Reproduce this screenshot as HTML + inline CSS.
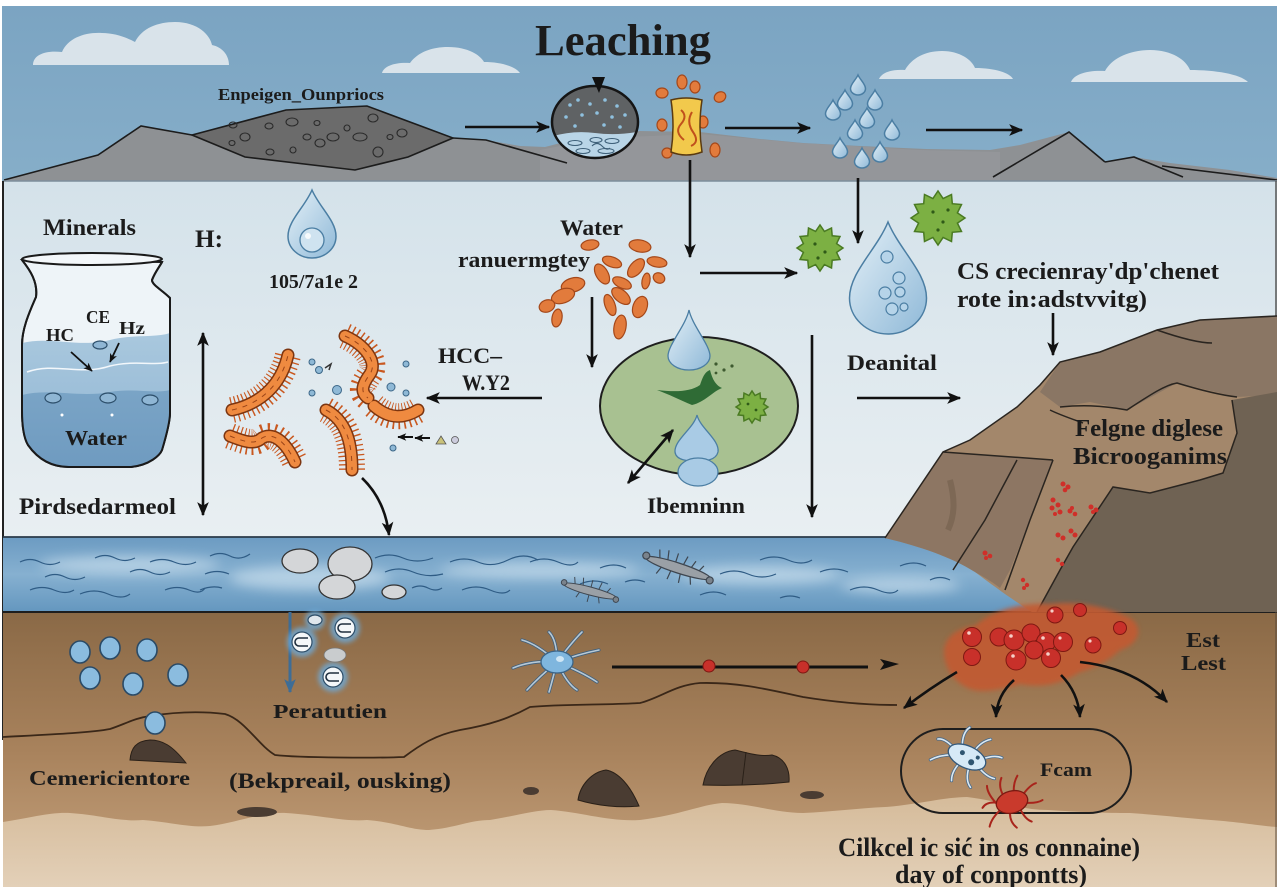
<!DOCTYPE html>
<html><head><meta charset="utf-8">
<style>
html,body{margin:0;padding:0;background:#fff;width:1280px;height:896px;overflow:hidden}
svg{display:block}
text{font-family:"Liberation Serif","DejaVu Serif",serif;font-weight:bold;fill:#1b1b1b}
.ln{stroke:#111;stroke-width:2.6;fill:none}
.hair{fill:none;stroke:#c9581f;stroke-width:26;stroke-dasharray:1.3 3.2}
.bo{fill:none;stroke:#7c3510;stroke-width:13;stroke-linecap:round}
.bb{fill:none;stroke:#ef8a40;stroke-width:10;stroke-linecap:round}
.bd{fill:none;stroke:#9a4418;stroke-width:1;stroke-dasharray:5 6}
.ov{fill:#e27b3c;stroke:#a4481a;stroke-width:1.2}
.germ{fill:#7cb043;stroke:#4a7a22;stroke-width:1.5}
.wv{fill:none;stroke:#2f5c85;stroke-width:1.2}
.rd{fill:#cf2f29}
.dr{fill:url(#dropg);stroke:#4b7ea3;stroke-width:1.5}
.rb{fill:#c8302a;stroke:#7e1812;stroke-width:1}
</style></head><body>
<svg width="1280" height="896" viewBox="0 0 1280 896" xmlns="http://www.w3.org/2000/svg">
<defs>
<linearGradient id="sky" x1="0" y1="0" x2="0" y2="1"><stop offset="0" stop-color="#7ba4c2"/><stop offset="1" stop-color="#86aec9"/></linearGradient>
<linearGradient id="panel" x1="0" y1="0" x2="0" y2="1"><stop offset="0" stop-color="#d4e2ea"/><stop offset="1" stop-color="#e9eff2"/></linearGradient>
<linearGradient id="water" x1="0" y1="0" x2="0" y2="1"><stop offset="0" stop-color="#6c9bc2"/><stop offset=".5" stop-color="#86b0d0"/><stop offset="1" stop-color="#6497bf"/></linearGradient>
<linearGradient id="soil" x1="0" y1="0" x2="0" y2="1"><stop offset="0" stop-color="#8a6946"/><stop offset=".5" stop-color="#a8825c"/><stop offset="1" stop-color="#c6a37e"/></linearGradient>
<linearGradient id="beige" x1="0" y1="0" x2="0" y2="1"><stop offset="0" stop-color="#d5bb9a"/><stop offset="1" stop-color="#e3d0b8"/></linearGradient>
<linearGradient id="dropg" x1="0" y1="0" x2="1" y2="1"><stop offset="0" stop-color="#e4f0f7"/><stop offset="1" stop-color="#8fb9d8"/></linearGradient>
<linearGradient id="jarw" x1="0" y1="0" x2="0" y2="1"><stop offset="0" stop-color="#a9c8de"/><stop offset="1" stop-color="#8fb4d2"/></linearGradient>
<linearGradient id="jarw2" x1="0" y1="0" x2="0" y2="1"><stop offset="0" stop-color="#7aa4c6"/><stop offset="1" stop-color="#6f9bc0"/></linearGradient>
<filter id="blur" x="-50%" y="-50%" width="200%" height="200%"><feGaussianBlur stdDeviation="6"/></filter>
<filter id="blur2" x="-50%" y="-50%" width="200%" height="200%"><feGaussianBlur stdDeviation="2.5"/></filter>
<marker id="ar" viewBox="0 0 12 12" refX="11" refY="6" markerWidth="14" markerHeight="14" orient="auto-start-reverse" markerUnits="userSpaceOnUse"><path d="M0,1 L12,6 L0,11 L3,6 Z" fill="#111"/></marker>
<marker id="ars" viewBox="0 0 12 12" refX="11" refY="6" markerWidth="9" markerHeight="9" orient="auto-start-reverse" markerUnits="userSpaceOnUse"><path d="M0,1 L12,6 L0,11 L3,6 Z" fill="#111"/></marker>
<marker id="arb" viewBox="0 0 12 12" refX="11" refY="6" markerWidth="14" markerHeight="14" orient="auto" markerUnits="userSpaceOnUse"><path d="M0,1 L12,6 L0,11 L3,6 Z" fill="#3e6d96"/></marker>
<path id="b1" d="M232,410 C255,405 280,390 288,355"/>
<path id="b2" d="M345,336 C365,345 378,362 370,374 C362,385 360,392 368,398"/>
<path id="b3" d="M374,406 C390,420 405,418 418,410"/>
<path id="b4" d="M230,436 C245,442 255,445 262,438 C272,432 285,440 295,462"/>
<path id="b5" d="M326,410 C345,420 352,440 352,470"/>
<clipPath id="cc"><ellipse cx="595" cy="122" rx="43" ry="36"/></clipPath>
</defs>

<rect x="0" y="0" width="1280" height="896" fill="#fff"/>

<!-- SKY -->
<rect x="2" y="6" width="1275" height="176" fill="url(#sky)"/>
<g fill="#d9e3ea">
<path d="M33,65 C33,55 45,50 62,52 C68,38 85,32 102,33 C115,33 128,38 135,42 C142,28 158,22 175,22 C198,22 210,35 212,45 C222,47 229,55 229,65 Z"/>
<path d="M382,73 C384,66 395,62 410,63 C418,52 432,47 448,47 C468,47 480,55 484,62 C500,62 515,66 520,73 Z"/>
<path d="M879,79 C882,72 893,69 905,70 C912,58 925,51 942,51 C960,51 972,60 975,68 C995,68 1010,73 1013,79 Z"/>
<path d="M1071,82 C1074,74 1088,70 1105,71 C1112,58 1130,50 1150,50 C1172,50 1186,60 1190,70 C1215,70 1240,74 1248,82 Z"/>
</g>
<path d="M2,182 L4,180 L98,155 L141,126 L192,135 L286,110 L367,106 L453,138 L486,140 L520,146 L545,147 L580,138 L640,131 L700,132 L760,139 L803,143 L860,146 L926,149 L990,150 L1020,145 L1069,132 L1105,162 L1134,157 L1170,163 L1230,170 L1277,178 L1277,182 Z" fill="#8e9194"/>
<path d="M540,182 L540,150 L600,138 L700,134 L800,143 L920,150 L1000,152 L1000,182 Z" fill="#979a9e" opacity=".6"/>
<path d="M192,135 L286,110 L367,106 L453,138 L408,157 L355,170 L245,157 Z" fill="#6b6b6b" stroke="#1c1c1c" stroke-width="1.6"/>
<g fill="none" stroke="#2a2a2a" stroke-width="1.1">
<ellipse cx="233" cy="125" rx="4" ry="3"/><ellipse cx="245" cy="137" rx="5" ry="4"/><ellipse cx="232" cy="143" rx="3" ry="2.5"/>
<ellipse cx="269" cy="126" rx="4" ry="3"/><ellipse cx="292" cy="122" rx="6" ry="4"/><ellipse cx="307" cy="137" rx="4" ry="3"/>
<ellipse cx="320" cy="143" rx="5" ry="4"/><ellipse cx="317" cy="123" rx="3" ry="2.5"/><ellipse cx="333" cy="137" rx="6" ry="4"/>
<ellipse cx="347" cy="128" rx="3" ry="3"/><ellipse cx="360" cy="137" rx="7" ry="4"/><ellipse cx="373" cy="118" rx="5" ry="4"/>
<ellipse cx="378" cy="152" rx="5" ry="5"/><ellipse cx="390" cy="137" rx="3" ry="2.5"/><ellipse cx="402" cy="133" rx="5" ry="4"/>
<ellipse cx="293" cy="150" rx="3" ry="3"/><ellipse cx="270" cy="152" rx="4" ry="3"/>
</g>
<g fill="none" stroke="#1c1c1c" stroke-width="1.6">
<path d="M4,180 L98,155 L141,126 L192,135"/>
<path d="M453,138 L486,140 L567,163"/>
<path d="M993,177 L1069,132 L1105,162"/>
<path d="M1105,162 L1134,157 L1183,177"/>
<path d="M1162,166 L1277,180"/>
</g>
<text x="218" y="100" font-size="17" textLength="166" lengthAdjust="spacingAndGlyphs" fill="#1e2a35">Enpeigen_Ounpriocs</text>
<text x="535" y="55" font-size="44" textLength="176" lengthAdjust="spacingAndGlyphs" fill="#111">Leaching</text>
<line class="ln" x1="465" y1="127" x2="549" y2="127" marker-end="url(#ar)" stroke-width="3"/>
<line class="ln" x1="725" y1="128" x2="810" y2="128" marker-end="url(#ar)" stroke-width="3"/>
<line class="ln" x1="926" y1="130" x2="1022" y2="130" marker-end="url(#ar)" stroke-width="3"/>
<!-- rock circle -->
<g clip-path="url(#cc)">
<rect x="550" y="80" width="92" height="84" fill="#5f6264"/>
<path d="M550,137 Q572,130 595,133 T642,131 L642,164 L550,164Z" fill="#b9d5e7"/>
<g fill="#8fc0de"><circle cx="570" cy="105" r="1.8"/><circle cx="578" cy="100" r="1.8"/><circle cx="590" cy="104" r="1.8"/><circle cx="605" cy="100" r="1.8"/><circle cx="617" cy="106" r="1.8"/><circle cx="566" cy="117" r="1.8"/><circle cx="582" cy="115" r="1.8"/><circle cx="597" cy="113" r="1.8"/><circle cx="612" cy="117" r="1.8"/><circle cx="625" cy="115" r="1.8"/><circle cx="575" cy="126" r="1.8"/><circle cx="604" cy="125" r="1.8"/><circle cx="620" cy="127" r="1.8"/></g>
<g fill="none" stroke="#3d5f78" stroke-width="1.1"><ellipse cx="575" cy="143" rx="7" ry="2.5"/><ellipse cx="596" cy="140" rx="6" ry="2.5"/><ellipse cx="612" cy="141" rx="7" ry="2.5"/><ellipse cx="583" cy="151" rx="7" ry="2.5"/><ellipse cx="606" cy="151" rx="8" ry="2.5"/><path d="M592,146 q5,-5 10,0 t8,2"/></g>
</g>
<ellipse cx="595" cy="122" rx="43" ry="36" fill="none" stroke="#151515" stroke-width="2.5"/>
<polygon points="592,77 605,77 599,93" fill="#111"/>
<!-- yellow thing -->
<g class="ov"><ellipse cx="682" cy="82" rx="5" ry="7"/><ellipse cx="695" cy="87" rx="5" ry="6"/><ellipse cx="720" cy="97" rx="6" ry="5" transform="rotate(-30 720 97)"/><ellipse cx="662" cy="93" rx="6" ry="5"/><ellipse cx="662" cy="125" rx="5" ry="6"/><ellipse cx="703" cy="122" rx="5" ry="6"/><ellipse cx="667" cy="153" rx="5" ry="5"/><ellipse cx="715" cy="150" rx="5" ry="7"/></g>
<path d="M671,100 Q686,96 702,100 Q698,126 702,152 Q686,158 671,152 Q675,126 671,100 Z" fill="#f2c94c" stroke="#5a3a10" stroke-width="1.5"/>
<path d="M681,110 q7,6 0,14 t3,16 M692,112 q-6,10 1,20 t-2,14" fill="none" stroke="#c0501c" stroke-width="2"/>
<!-- sky drops -->
<g class="dr">
<path d="M858,75 c2.25,5 7.5,9 7.5,13.6 a7.5,6.4 0 0 1 -15,0 c0,-4.6 5.25,-8.6 7.5,-13.6z"/>
<path d="M845,90 c2.25,5 7.5,9 7.5,13.6 a7.5,6.4 0 0 1 -15,0 c0,-4.6 5.25,-8.6 7.5,-13.6z"/>
<path d="M875,90 c2.25,5 7.5,9 7.5,13.6 a7.5,6.4 0 0 1 -15,0 c0,-4.6 5.25,-8.6 7.5,-13.6z"/>
<path d="M833,100 c2.25,5 7.5,9 7.5,13.6 a7.5,6.4 0 0 1 -15,0 c0,-4.6 5.25,-8.6 7.5,-13.6z"/>
<path d="M867,108 c2.25,5 7.5,9 7.5,13.6 a7.5,6.4 0 0 1 -15,0 c0,-4.6 5.25,-8.6 7.5,-13.6z"/>
<path d="M855,120 c2.25,5 7.5,9 7.5,13.6 a7.5,6.4 0 0 1 -15,0 c0,-4.6 5.25,-8.6 7.5,-13.6z"/>
<path d="M892,120 c2.25,5 7.5,9 7.5,13.6 a7.5,6.4 0 0 1 -15,0 c0,-4.6 5.25,-8.6 7.5,-13.6z"/>
<path d="M840,138 c2.25,5 7.5,9 7.5,13.6 a7.5,6.4 0 0 1 -15,0 c0,-4.6 5.25,-8.6 7.5,-13.6z"/>
<path d="M862,148 c2.25,5 7.5,9 7.5,13.6 a7.5,6.4 0 0 1 -15,0 c0,-4.6 5.25,-8.6 7.5,-13.6z"/>
<path d="M880,142 c2.25,5 7.5,9 7.5,13.6 a7.5,6.4 0 0 1 -15,0 c0,-4.6 5.25,-8.6 7.5,-13.6z"/>
</g>

<!-- MIDDLE PANEL -->
<rect x="3" y="181" width="1274" height="357" fill="url(#panel)"/>
<line x1="3" y1="181" x2="1277" y2="181" stroke="#7d8e9b" stroke-width="1.5"/>
<line x1="3" y1="181" x2="3" y2="740" stroke="#222" stroke-width="2"/>
<line x1="1276" y1="181" x2="1276" y2="330" stroke="#555" stroke-width="1.5"/>

<text x="43" y="235" font-size="23" textLength="93" lengthAdjust="spacingAndGlyphs">Minerals</text>
<text x="195" y="247" font-size="25" textLength="28" lengthAdjust="spacingAndGlyphs">H:</text>
<path class="dr" d="M312,190 c7.2,17 24,30.6 24,46.24 a24,21.76 0 0 1 -48,0 c0,-15.64 16.8,-29.24 24,-46.24z"/>
<circle cx="312" cy="240" r="12" fill="#cfe3f0" stroke="#4b7ea3" stroke-width="1.3"/>
<circle cx="308" cy="236" r="3" fill="#fff" opacity=".8"/>
<text x="269" y="288" font-size="20" textLength="89" lengthAdjust="spacingAndGlyphs">105/7a1e 2</text>

<!-- jar -->
<path d="M22,260 C30,270 38,282 36,297 C28,315 22,330 22,345 L22,410 C22,430 25,440 28,445 C40,462 55,467 69,467 L131,467 C150,465 160,455 162,450 C168,430 170,420 170,413 L170,298 C162,290 152,285 152,280 C155,272 160,266 162,262 Z" fill="#eef4f8" stroke="#1a1a1a" stroke-width="2"/>
<path d="M22,343 C50,336 80,348 110,340 C135,334 155,338 170,333 L170,413 C170,420 168,430 162,450 C160,455 150,465 131,467 L69,467 C55,467 40,462 28,445 C25,440 22,430 22,410 Z" fill="url(#jarw)"/>
<path d="M22,395 C50,388 80,398 110,392 C135,388 155,394 170,390 L170,413 C170,420 168,430 162,450 C160,455 150,465 131,467 L69,467 C55,467 40,462 28,445 C25,440 22,430 22,410 Z" fill="url(#jarw2)"/>
<path d="M27,372 C55,362 80,376 110,366 C135,360 155,366 168,362" fill="none" stroke="#f2f7fb" stroke-width="1.5"/>
<path d="M22,260 C30,270 38,282 36,297 C28,315 22,330 22,345 L22,410 C22,430 25,440 28,445 C40,462 55,467 69,467 L131,467 C150,465 160,455 162,450 C168,430 170,420 170,413 L170,298 C162,290 152,285 152,280 C155,272 160,266 162,262" fill="none" stroke="#1a1a1a" stroke-width="2"/>
<ellipse cx="92" cy="259" rx="70" ry="6" fill="#f3f7fa" stroke="#1a1a1a" stroke-width="2"/>
<g fill="#8fb6d4" stroke="#2d4f6b" stroke-width="1.2"><ellipse cx="100" cy="345" rx="7" ry="4"/><ellipse cx="53" cy="398" rx="8" ry="5"/><ellipse cx="108" cy="398" rx="8" ry="5"/><ellipse cx="150" cy="400" rx="8" ry="5"/></g>
<circle cx="62" cy="415" r="1.5" fill="#fff"/><circle cx="112" cy="415" r="1.5" fill="#fff"/>
<text x="86" y="323" font-size="18" textLength="24" lengthAdjust="spacingAndGlyphs">CE</text>
<text x="119" y="334" font-size="18" textLength="26" lengthAdjust="spacingAndGlyphs">Hz</text>
<text x="46" y="341" font-size="18" textLength="28" lengthAdjust="spacingAndGlyphs">HC</text>
<line x1="71" y1="352" x2="92" y2="371" stroke="#111" stroke-width="1.8" marker-end="url(#ars)"/>
<line x1="119" y1="343" x2="110" y2="362" stroke="#111" stroke-width="1.8" marker-end="url(#ars)"/>
<text x="65" y="445" font-size="21" textLength="62" lengthAdjust="spacingAndGlyphs">Water</text>
<line class="ln" x1="203" y1="333" x2="203" y2="515" marker-start="url(#ar)" marker-end="url(#ar)"/>
<text x="19" y="514" font-size="23" textLength="157" lengthAdjust="spacingAndGlyphs">Pirdsedarmeol</text>

<!-- orange bacteria -->
<g>
<use href="#b1" class="hair"/><use href="#b2" class="hair"/><use href="#b3" class="hair"/><use href="#b4" class="hair"/><use href="#b5" class="hair"/>
<use href="#b1" class="bo"/><use href="#b2" class="bo"/><use href="#b3" class="bo"/><use href="#b4" class="bo"/><use href="#b5" class="bo"/>
<use href="#b1" class="bb"/><use href="#b2" class="bb"/><use href="#b3" class="bb"/><use href="#b4" class="bb"/><use href="#b5" class="bb"/>
<use href="#b1" class="bd"/><use href="#b2" class="bd"/><use href="#b4" class="bd"/><use href="#b5" class="bd"/>
</g>
<g fill="#8fb9d6" stroke="#3c6788" stroke-width="1"><circle cx="312" cy="362" r="3"/><circle cx="319" cy="370" r="3.5"/><circle cx="406" cy="364" r="3"/><circle cx="337" cy="390" r="4.5"/><circle cx="312" cy="393" r="3"/><circle cx="391" cy="387" r="4"/><circle cx="406" cy="393" r="3"/><circle cx="393" cy="448" r="3"/></g>
<path d="M325,368 l6,-4 l-2,6" fill="none" stroke="#333" stroke-width="1.5"/>
<text x="438" y="363" font-size="22" textLength="64" lengthAdjust="spacingAndGlyphs">HCC–</text>
<text x="462" y="390" font-size="22" textLength="48" lengthAdjust="spacingAndGlyphs">W.Y2</text>
<line class="ln" x1="542" y1="398" x2="427" y2="398" marker-end="url(#ar)"/>
<line x1="413" y1="437" x2="398" y2="437" stroke="#111" stroke-width="2" marker-end="url(#ars)"/>
<line x1="430" y1="438" x2="415" y2="438" stroke="#111" stroke-width="2" marker-end="url(#ars)"/>
<path d="M436,444 l5,-8 l5,8 z" fill="#c9c27a" stroke="#555" stroke-width=".8"/>
<circle cx="455" cy="440" r="3.5" fill="#ccd" stroke="#555" stroke-width=".8"/>
<path class="ln" d="M362,478 Q385,500 389,535" marker-end="url(#ar)"/>

<!-- center column -->
<text x="560" y="235" font-size="22" textLength="63" lengthAdjust="spacingAndGlyphs">Water</text>
<text x="458" y="267" font-size="22" textLength="132" lengthAdjust="spacingAndGlyphs">ranuermgtey</text>
<g class="ov">
<ellipse cx="590" cy="245" rx="9" ry="5" transform="rotate(-10 590 245)"/>
<ellipse cx="640" cy="246" rx="11" ry="6" transform="rotate(10 640 246)"/>
<ellipse cx="612" cy="262" rx="10" ry="5" transform="rotate(20 612 262)"/>
<ellipse cx="602" cy="274" rx="6" ry="11" transform="rotate(-30 602 274)"/>
<ellipse cx="636" cy="268" rx="6" ry="11" transform="rotate(40 636 268)"/>
<ellipse cx="657" cy="262" rx="10" ry="5" transform="rotate(10 657 262)"/>
<ellipse cx="659" cy="278" rx="6" ry="5" transform="rotate(30 659 278)"/>
<ellipse cx="646" cy="281" rx="4" ry="8" transform="rotate(10 646 281)"/>
<ellipse cx="622" cy="283" rx="10" ry="5" transform="rotate(25 622 283)"/>
<ellipse cx="573" cy="285" rx="12" ry="7" transform="rotate(-15 573 285)"/>
<ellipse cx="563" cy="296" rx="12" ry="7" transform="rotate(-20 563 296)"/>
<ellipse cx="547" cy="306" rx="8" ry="6" transform="rotate(-20 547 306)"/>
<ellipse cx="557" cy="318" rx="5" ry="9" transform="rotate(10 557 318)"/>
<ellipse cx="621" cy="296" rx="11" ry="6" transform="rotate(40 621 296)"/>
<ellipse cx="610" cy="305" rx="5" ry="11" transform="rotate(-20 610 305)"/>
<ellipse cx="640" cy="307" rx="7" ry="11" transform="rotate(20 640 307)"/>
<ellipse cx="620" cy="327" rx="6" ry="12" transform="rotate(10 620 327)"/>
</g>
<line class="ln" x1="592" y1="297" x2="592" y2="367" marker-end="url(#ar)"/>
<line class="ln" x1="690" y1="160" x2="690" y2="257" marker-end="url(#ar)"/>
<line class="ln" x1="700" y1="273" x2="797" y2="273" marker-end="url(#ar)"/>
<line class="ln" x1="858" y1="178" x2="858" y2="243" marker-end="url(#ar)"/>
<polygon class="germ" points="843,248 836.6,252.4 840,259.5 832.2,260.2 831.5,268 824.4,264.6 820,271 815.6,264.6 808.5,268 807.8,260.2 800,259.5 803.4,252.4 797,248 803.4,243.6 800,236.5 807.8,235.8 808.5,228 815.6,231.4 820,225 824.4,231.4 831.5,228 832.2,235.8 840,236.5 836.6,243.6"/>
<polygon class="germ" points="965,218 957.4,223.1 961.5,231.5 952.3,232.3 951.5,241.5 943.1,237.4 938,245 932.9,237.4 924.5,241.5 923.7,232.3 914.5,231.5 918.6,223.1 911,218 918.6,212.9 914.5,204.5 923.7,203.7 924.5,194.5 932.9,198.6 938,191 943.1,198.6 951.5,194.5 952.3,203.7 961.5,204.5 957.4,212.9"/>
<g fill="#2f5a18"><circle cx="815" cy="244" r="1.6"/><circle cx="825" cy="252" r="1.6"/><circle cx="818" cy="258" r="1.6"/><circle cx="933" cy="212" r="1.6"/><circle cx="943" cy="222" r="1.6"/><circle cx="938" cy="230" r="1.6"/><circle cx="948" cy="210" r="1.6"/></g>
<path class="dr" d="M888,222 c11.55,28 38.5,50.4 38.5,76.16 a38.5,35.84 0 0 1 -77,0 c0,-25.76 26.95,-48.16 38.5,-76.16z"/>
<g fill="#b6d4e9" stroke="#4b7ea3" stroke-width="1.2"><circle cx="887" cy="257" r="6"/><circle cx="899" cy="278" r="6"/><circle cx="885" cy="293" r="6"/><circle cx="900" cy="292" r="5"/><circle cx="892" cy="309" r="6"/><circle cx="904" cy="307" r="4"/></g>

<!-- green ellipse -->
<ellipse cx="699" cy="406" rx="99" ry="69" fill="#a8c191" stroke="#1e1e1e" stroke-width="2"/>
<path d="M689,310 C692,325 710,345 710,356 A21,14 0 0 1 668,356 C668,345 686,325 689,310 Z" fill="url(#dropg)" stroke="#4b7ea3" stroke-width="1.3"/>
<g fill="#3e5a30"><circle cx="716" cy="364" r="1.6"/><circle cx="724" cy="370" r="1.6"/><circle cx="732" cy="366" r="1.6"/><circle cx="716" cy="373" r="1.4"/></g>
<path d="M657,390 C675,392 690,392 700,385 C703,376 705,372 710,370 C712,378 715,385 722,388 C712,392 705,402 692,405 C680,400 668,394 657,390 Z" fill="#2f6b35"/>
<polygon class="germ" points="768,407 763.5,410 765.9,415 760.5,415.5 760,420.9 755,418.5 752,423 749,418.5 744,420.9 743.5,415.5 738.1,415 740.5,410 736,407 740.5,404 738.1,399 743.5,398.5 744,393.1 749,395.5 752,391 755,395.5 760,393.1 760.5,398.5 765.9,399 763.5,404"/>
<g fill="#2f5a18"><circle cx="748" cy="404" r="1.4"/><circle cx="756" cy="410" r="1.4"/></g>
<path d="M697,415 C700,428 720,440 718,452 C716,460 705,462 697,460 C688,462 676,460 675,452 C674,440 694,428 697,415 Z" fill="#a9cbe5" stroke="#4b7ea3" stroke-width="1.3"/>
<ellipse cx="698" cy="472" rx="20" ry="14" fill="#a9cbe5" stroke="#4b7ea3" stroke-width="1.3"/>
<line class="ln" x1="628" y1="483" x2="673" y2="430" marker-start="url(#ar)" marker-end="url(#ar)"/>
<text x="647" y="513" font-size="22" textLength="98" lengthAdjust="spacingAndGlyphs">Ibemninn</text>
<line class="ln" x1="812" y1="335" x2="812" y2="517" marker-end="url(#ar)"/>
<text x="847" y="370" font-size="22" textLength="90" lengthAdjust="spacingAndGlyphs">Deanital</text>
<line class="ln" x1="857" y1="398" x2="960" y2="398" marker-end="url(#ar)"/>
<text x="957" y="279" font-size="24" textLength="262" lengthAdjust="spacingAndGlyphs">CS crecienray'dp'chenet</text>
<text x="957" y="307" font-size="24" textLength="190" lengthAdjust="spacingAndGlyphs">rote in:adstvvitg)</text>
<line class="ln" x1="1053" y1="313" x2="1053" y2="355" marker-end="url(#ar)" stroke-width="2"/>

<!-- WATER -->
<rect x="3" y="537" width="1274" height="75" fill="url(#water)"/>
<g fill="#c4dbeb" opacity=".75" filter="url(#blur)">
<ellipse cx="130" cy="565" rx="90" ry="9"/><ellipse cx="310" cy="578" rx="80" ry="12"/><ellipse cx="540" cy="570" rx="100" ry="8"/><ellipse cx="760" cy="575" rx="80" ry="9"/><ellipse cx="900" cy="585" rx="60" ry="8"/>
</g>
<g class="wv">
<path d="M20,562 q10,-5 20,0 t20,0"/><path d="M95,558 q10,-5 20,0 t20,0"/><path d="M150,562 q12,-5 24,0 t22,0"/><path d="M210,556 q10,-5 20,0 t20,-2"/>
<path d="M45,577 q10,-5 20,0 t20,0"/><path d="M130,572 q10,-5 20,0 t20,0"/><path d="M205,574 q12,-5 24,0"/>
<path d="M30,590 q12,-5 24,0 t20,0"/><path d="M80,594 q14,-6 28,0 t22,0"/><path d="M165,590 q12,-5 24,0 t16,-2"/><path d="M200,590 q12,-5 22,-2"/>
<path d="M375,558 q14,-6 28,0 t30,0"/><path d="M385,572 q14,-6 28,0 t30,2"/><path d="M412,588 q8,-4 16,0 t14,0"/>
<path d="M450,562 q14,-6 28,0 t30,-2 t30,0"/><path d="M530,562 q14,-6 28,0 t20,0"/><path d="M600,568 q14,-6 26,0"/><path d="M580,584 q14,-6 28,0"/>
<path d="M462,590 q14,-6 28,0 t20,0"/><path d="M625,582 q10,-4 20,0"/>
<path d="M720,574 q14,-6 28,0 t28,0"/><path d="M760,560 q14,-6 28,0 t24,0"/><path d="M820,572 q14,-6 28,0"/><path d="M850,590 q14,-6 28,0 t20,0"/><path d="M700,595 q14,-6 26,0"/><path d="M900,566 q14,-6 26,0"/><path d="M930,580 q10,-5 20,0"/><path d="M780,598 q10,-4 20,0"/>
</g>
<g fill="#d4d6d8" stroke="#333" stroke-width="1.3">
<ellipse cx="300" cy="561" rx="18" ry="12"/><ellipse cx="350" cy="564" rx="22" ry="17"/><ellipse cx="337" cy="587" rx="18" ry="12"/><ellipse cx="394" cy="592" rx="12" ry="7"/>
</g>
<g transform="translate(678,568) rotate(18)" stroke="#3e4650" stroke-width="1.2">
<g fill="none"><path d="M-20,-3 l-3,-9 M-12,-4 l-2,-10 M-4,-4 l0,-10 M4,-4 l2,-10 M12,-3 l3,-9 M20,-2 l4,-8 M-16,4 l-3,8 M-6,5 l-1,9 M4,5 l1,9 M14,4 l3,8"/></g>
<ellipse cx="0" cy="0" rx="34" ry="5" fill="#9aa0a6"/>
<circle cx="-34" cy="-2" r="3.5" fill="#7a838c"/><circle cx="34" cy="2" r="3.5" fill="#7a838c"/>
</g>
<g transform="translate(590,591) rotate(15) scale(.8)" stroke="#3e4650" stroke-width="1.2">
<g fill="none"><path d="M-20,-3 l-3,-9 M-10,-4 l-2,-10 M0,-4 l0,-10 M10,-4 l2,-10 M20,-2 l4,-8 M-12,4 l-3,8 M0,5 l0,9 M12,4 l3,8"/></g>
<ellipse cx="0" cy="0" rx="34" ry="5" fill="#9aa0a6"/>
<circle cx="-34" cy="-2" r="3.5" fill="#7a838c"/><circle cx="34" cy="2" r="3.5" fill="#7a838c"/>
</g>
<line x1="3" y1="537" x2="890" y2="537" stroke="#2a3a48" stroke-width="1.8"/>

<!-- SOIL -->
<rect x="3" y="612" width="1274" height="275" fill="url(#soil)"/>
<path d="M3,822 C30,818 50,812 70,813 C100,815 120,822 143,820 C170,822 190,828 210,826 C240,822 260,812 286,813 C320,815 345,822 367,820 C395,822 410,830 429,830 C455,828 470,820 490,820 C515,816 535,810 551,810 C580,812 610,822 640,820 C680,815 700,805 722,803 C750,803 775,813 803,813 C830,812 860,808 885,807 C915,805 945,797 967,797 C995,800 1020,810 1048,810 C1080,812 1105,813 1130,813 C1160,815 1185,818 1211,820 C1240,822 1260,826 1277,827 L1277,887 L3,887 Z" fill="url(#beige)"/>
<path d="M3,737 C40,735 90,733 110,729 C125,724 135,718 150,716 C175,712 200,711 225,714 C245,720 258,745 275,755 C300,758 380,758 404,757 C420,745 435,735 460,730 C490,725 510,718 530,707 C560,704 610,705 640,703 C660,698 675,685 700,683 C740,682 770,690 803,697 C840,703 870,705 897,705" fill="none" stroke="#3a2718" stroke-width="1.8"/>
<line x1="3" y1="612" x2="1277" y2="612" stroke="#1e1e1e" stroke-width="2"/>
<line x1="1276" y1="612" x2="1276" y2="887" stroke="#5a4a3a" stroke-width="1"/>

<g fill="#8bbcdf" stroke="#2a4a66" stroke-width="1.6">
<ellipse cx="80" cy="652" rx="10" ry="11"/><ellipse cx="110" cy="648" rx="10" ry="11"/><ellipse cx="147" cy="650" rx="10" ry="11"/>
<ellipse cx="90" cy="678" rx="10" ry="11"/><ellipse cx="133" cy="684" rx="10" ry="11"/><ellipse cx="178" cy="675" rx="10" ry="11"/>
<ellipse cx="155" cy="723" rx="10" ry="11"/>
</g>
<path d="M130,760 C131,748 136,741 150,740 C162,740 172,745 186,763 Z" fill="#4a3c32" stroke="#2a2018" stroke-width="1"/>
<ellipse cx="257" cy="812" rx="20" ry="5" fill="#4a3c32"/>
<ellipse cx="531" cy="791" rx="8" ry="4" fill="#4a3c32"/>
<path d="M578,800 C580,785 592,772 606,770 C618,772 630,785 639,806 C620,808 598,806 578,800 Z" fill="#4a3c32" stroke="#2a2018" stroke-width="1"/>
<path d="M703,785 C706,768 718,752 735,750 C748,753 760,757 772,755 C785,758 790,770 789,782 C760,785 730,786 703,785 Z" fill="#4a3c32" stroke="#2a2018" stroke-width="1"/>
<line x1="746" y1="752" x2="742" y2="785" stroke="#2a2018" stroke-width="1"/>
<ellipse cx="812" cy="795" rx="12" ry="4" fill="#4a3c32"/>

<line x1="290" y1="612" x2="290" y2="692" stroke="#3e6d96" stroke-width="3" marker-end="url(#arb)"/>
<g filter="url(#blur2)" fill="#6ea9d6" opacity=".8"><circle cx="345" cy="628" r="15"/><circle cx="302" cy="642" r="15"/><circle cx="333" cy="677" r="15"/><circle cx="315" cy="620" r="10"/></g>
<g fill="#f4f7f9" stroke="#2f4e68" stroke-width="1.2">
<ellipse cx="315" cy="620" rx="7" ry="5" fill="#dfe6ec"/>
<ellipse cx="345" cy="628" rx="10" ry="10"/><ellipse cx="302" cy="642" rx="10" ry="10"/><ellipse cx="333" cy="677" rx="10" ry="10"/>
</g>
<ellipse cx="335" cy="655" rx="11" ry="7" fill="#c9ccce" stroke="#777" stroke-width=".8"/>
<g fill="none" stroke="#1e2e3e" stroke-width="1.6"><path d="M351,624 h-9 a4,4 0 0 0 0,8 h9"/><path d="M308,638 h-9 a4,4 0 0 0 0,8 h9"/><path d="M339,673 h-9 a4,4 0 0 0 0,8 h9"/></g>
<text x="273" y="718" font-size="20" textLength="114" lengthAdjust="spacingAndGlyphs">Peratutien</text>
<text x="29" y="785" font-size="21" textLength="161" lengthAdjust="spacingAndGlyphs">Cemericientore</text>
<text x="229" y="788" font-size="22" textLength="222" lengthAdjust="spacingAndGlyphs">(Bekpreail, ousking)</text>

<g transform="translate(557,662)" fill="none" stroke-linecap="round">
<g stroke="#3f5f7c" stroke-width="3.2"><path d="M0,0 Q-20,-18 -35,-22"/><path d="M0,0 Q-25,-2 -44,6"/><path d="M0,0 Q-18,15 -30,28"/><path d="M0,0 Q-5,20 -8,30"/><path d="M0,0 Q10,22 20,28"/><path d="M0,0 Q25,10 40,20"/><path d="M0,0 Q22,-8 42,-12"/><path d="M0,0 Q15,-20 25,-30"/><path d="M0,0 Q0,-22 -8,-30"/></g>
<g stroke="#b7c9d6" stroke-width="1.6"><path d="M0,0 Q-20,-18 -35,-22"/><path d="M0,0 Q-25,-2 -44,6"/><path d="M0,0 Q-18,15 -30,28"/><path d="M0,0 Q-5,20 -8,30"/><path d="M0,0 Q10,22 20,28"/><path d="M0,0 Q25,10 40,20"/><path d="M0,0 Q22,-8 42,-12"/><path d="M0,0 Q15,-20 25,-30"/><path d="M0,0 Q0,-22 -8,-30"/></g>
<ellipse cx="0" cy="0" rx="16" ry="11" fill="#7fb6de" stroke="#3b6487" stroke-width="1.3"/>
<ellipse cx="3" cy="-3" rx="4" ry="3" fill="#cfe6f5"/>
</g>
<line x1="612" y1="667" x2="868" y2="667" stroke="#111" stroke-width="3"/>
<path d="M880,659 L899,664 L880,670 L884,664 Z" fill="#111"/>
<g class="rb"><circle cx="709" cy="666" r="6"/><circle cx="803" cy="667" r="6"/></g>

<!-- CLIFF -->
<path d="M885,538 L943,452 L970,440 L1017,407 L1040,385 L1060,362 L1100,352 L1157,330 L1200,320 L1277,316 L1277,612 L1032,612 C1010,598 995,587 975,572 C950,556 915,545 885,538 Z" fill="#a3876b"/>
<path d="M1060,362 L1100,352 L1157,330 L1200,320 L1277,316 L1277,395 L1237,397 L1177,383 L1127,410 L1090,402 L1060,407 L1040,392 Z" fill="#8a7664"/>
<path d="M885,538 L943,452 L1053,460 L1045,482 L1030,520 L1010,570 L1000,588 C990,580 980,575 975,572 C950,556 915,545 885,538 Z" fill="#8d7663"/>
<path d="M1232,400 L1277,392 L1277,612 L1037,612 L1060,570 L1073,547 L1113,487 L1150,493 L1200,480 L1223,473 L1237,433 Z" fill="#6f6253"/>
<g fill="none" stroke="#2a2520" stroke-width="1.5">
<path d="M885,538 L943,452 L970,440 L1017,407 L1040,385 L1060,362 L1100,352 L1157,330 L1200,320 L1277,316"/>
<path d="M943,452 L1053,460"/>
<path d="M1017,460 L985,520 L953,570"/>
<path d="M1053,460 L1030,520 L1005,590"/>
<path d="M1060,407 C1080,405 1100,405 1127,410 C1150,395 1165,385 1177,383 C1200,390 1220,395 1237,397"/>
<path d="M1157,330 C1180,338 1200,343 1212,343"/>
<path d="M1037,612 L1060,570 L1073,547 L1113,487 L1150,493 L1200,480 L1223,473 L1237,433 L1232,400"/>
<path d="M1050,410 C1060,415 1075,420 1083,423"/>
</g>
<path d="M950,480 C955,500 955,515 948,530" stroke="#6e5a48" stroke-width="6" fill="none" opacity=".5"/>
<g class="rd">
<circle cx="1063" cy="484" r="2.5"/><circle cx="1068" cy="487" r="2.5"/><circle cx="1065" cy="490" r="2.3"/>
<circle cx="1053" cy="500" r="2.5"/><circle cx="1058" cy="505" r="2.5"/><circle cx="1052" cy="508" r="2.5"/><circle cx="1060" cy="512" r="2.5"/><circle cx="1055" cy="514" r="2"/>
<circle cx="1070" cy="511" r="2.5"/><circle cx="1075" cy="514" r="2.3"/><circle cx="1072" cy="508" r="2"/>
<circle cx="1091" cy="507" r="2.5"/><circle cx="1096" cy="510" r="2.5"/><circle cx="1093" cy="512" r="2"/>
<circle cx="1058" cy="535" r="2.5"/><circle cx="1063" cy="538" r="2.5"/><circle cx="1071" cy="531" r="2.5"/><circle cx="1075" cy="535" r="2.5"/>
<circle cx="985" cy="553" r="2.5"/><circle cx="990" cy="556" r="2.3"/><circle cx="986" cy="558" r="2"/>
<circle cx="1058" cy="560" r="2.2"/><circle cx="1062" cy="564" r="2.2"/>
<circle cx="1023" cy="580" r="2.2"/><circle cx="1027" cy="585" r="2.2"/><circle cx="1024" cy="588" r="2"/>
</g>
<text x="1075" y="436" font-size="24" textLength="148" lengthAdjust="spacingAndGlyphs">Felgne diglese</text>
<text x="1073" y="464" font-size="24" textLength="154" lengthAdjust="spacingAndGlyphs">Bicrooganims</text>

<!-- red blob -->
<g filter="url(#blur2)" fill="#c35a30" opacity=".9">
<path d="M945,660 C940,640 955,628 975,626 C990,612 1020,602 1050,604 C1080,600 1110,608 1130,618 C1145,628 1138,645 1120,650 C1110,660 1095,668 1080,672 C1060,685 1040,688 1020,684 C1000,690 980,694 968,688 C955,682 948,672 945,660 Z"/>
</g>
<g class="rb">
<circle cx="972" cy="637" r="9.5"/><circle cx="972" cy="657" r="8.5"/><circle cx="999" cy="637" r="9"/><circle cx="1014" cy="640" r="10"/>
<circle cx="1031" cy="633" r="9"/><circle cx="1046" cy="642" r="9.5"/><circle cx="1063" cy="642" r="9.5"/><circle cx="1034" cy="650" r="9"/>
<circle cx="1016" cy="660" r="10"/><circle cx="1051" cy="658" r="9.5"/><circle cx="1055" cy="615" r="8"/><circle cx="1080" cy="610" r="6.5"/>
<circle cx="1120" cy="628" r="6.5"/><circle cx="1093" cy="645" r="8"/>
</g>
<g fill="#f5d0c8"><circle cx="969" cy="633" r="1.8"/><circle cx="1011" cy="636" r="1.8"/><circle cx="1043" cy="638" r="1.8"/><circle cx="1013" cy="656" r="1.8"/><circle cx="1048" cy="654" r="1.8"/><circle cx="1052" cy="611" r="1.6"/><circle cx="1090" cy="641" r="1.6"/><circle cx="1060" cy="638" r="1.6"/></g>
<path class="ln" d="M957,672 Q930,688 904,708" marker-end="url(#ar)"/>
<path class="ln" d="M1014,680 Q997,695 996,717" marker-end="url(#ar)"/>
<path class="ln" d="M1061,675 Q1078,692 1080,717" marker-end="url(#ar)"/>
<path class="ln" d="M1080,662 Q1135,668 1167,702" marker-end="url(#ar)"/>
<text x="1186" y="647" font-size="21" textLength="34" lengthAdjust="spacingAndGlyphs">Est</text>
<text x="1181" y="670" font-size="21" textLength="45" lengthAdjust="spacingAndGlyphs">Lest</text>

<!-- pill -->
<rect x="901" y="729" width="230" height="84" rx="42" ry="42" fill="none" stroke="#1e1e1e" stroke-width="2"/>
<text x="1040" y="776" font-size="19" textLength="52" lengthAdjust="spacingAndGlyphs">Fcam</text>
<g transform="translate(967,757) rotate(25)" fill="none" stroke-linecap="round">
<g stroke="#4a6a88" stroke-width="3.2"><path d="M-8,-6 Q-15,-20 -10,-28"/><path d="M-14,-2 Q-28,-8 -34,-4"/><path d="M-14,4 Q-26,10 -32,18"/><path d="M-4,8 Q-8,20 -4,28"/><path d="M6,8 Q8,22 16,26"/><path d="M14,4 Q26,10 34,8"/><path d="M14,-4 Q24,-14 32,-14"/><path d="M4,-8 Q6,-20 14,-26"/></g>
<g stroke="#dbe9f3" stroke-width="1.6"><path d="M-8,-6 Q-15,-20 -10,-28"/><path d="M-14,-2 Q-28,-8 -34,-4"/><path d="M-14,4 Q-26,10 -32,18"/><path d="M-4,8 Q-8,20 -4,28"/><path d="M6,8 Q8,22 16,26"/><path d="M14,4 Q26,10 34,8"/><path d="M14,-4 Q24,-14 32,-14"/><path d="M4,-8 Q6,-20 14,-26"/></g>
<ellipse cx="0" cy="0" rx="20" ry="11" fill="#d6e9f6" stroke="#33587a" stroke-width="1.3"/>
<circle cx="-6" cy="-2" r="2.5" fill="#2f5570"/><circle cx="6" cy="3" r="3" fill="#2f5570"/><circle cx="10" cy="-4" r="2" fill="#2f5570"/>
</g>
<g transform="translate(1012,802) rotate(-15)" fill="none" stroke="#a8241b" stroke-width="2" stroke-linecap="round">
<path d="M-6,-6 Q-10,-18 -4,-26"/><path d="M-12,-2 Q-24,-8 -30,-2"/><path d="M-12,4 Q-24,10 -28,18"/><path d="M-4,8 Q-8,18 -2,26"/><path d="M6,8 Q8,20 14,24"/><path d="M12,4 Q24,8 30,6"/><path d="M12,-4 Q22,-12 28,-12"/><path d="M4,-8 Q6,-18 12,-24"/><path d="M-14,0 Q-22,-14 -20,-22"/>
<ellipse cx="0" cy="0" rx="16" ry="11" fill="#c93a2c" stroke="#7a1a12" stroke-width="1.3"/>
</g>
<text x="838" y="856" font-size="26" textLength="302" lengthAdjust="spacingAndGlyphs">Cilkcel ic sić in  os connaine)</text>
<text x="895" y="883" font-size="26" textLength="192" lengthAdjust="spacingAndGlyphs">day of conpontts)</text>

<rect x="0" y="887" width="1280" height="9" fill="#fff"/>
</svg>
</body></html>
